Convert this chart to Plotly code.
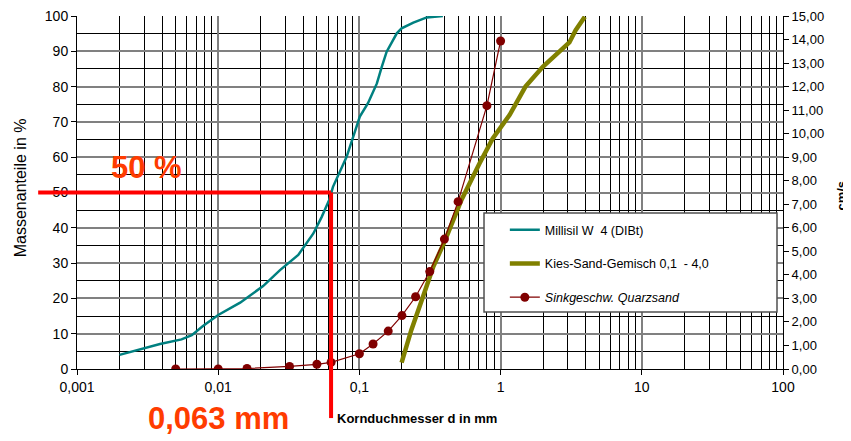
import plotly.graph_objects as go

# ---- data ----
millisil_d = [0.002, 0.00387, 0.0055, 0.0065, 0.0078, 0.010, 0.0143, 0.0163, 0.0208, 0.0274,
              0.0369, 0.0472, 0.0541, 0.0611, 0.065, 0.0812, 0.1007, 0.115, 0.133, 0.144,
              0.156, 0.184, 0.199, 0.241, 0.30, 0.39]
millisil_p = [4.0, 7.1, 8.4, 9.6, 12.2, 15.3, 18.8, 20.5, 23.5, 28.0,
              32.3, 38.4, 43.1, 47.9, 51.6, 60.1, 71.5, 75.3, 80.9, 85.6,
              89.9, 95.1, 96.5, 98.1, 99.6, 100.0]

kies_d = [0.199, 0.233, 0.282, 0.334, 0.405, 0.528, 0.71, 0.88, 1.16, 1.5,
          1.99, 2.635, 3.07, 3.4, 3.95]
kies_p = [1.8, 11.0, 20.5, 29.0, 36.5, 47.9, 58.3, 65.3, 72.0, 80.0,
          85.6, 89.9, 92.5, 96.0, 99.8]

sink_d = [0.005, 0.01, 0.016, 0.032, 0.05, 0.063, 0.1, 0.125, 0.16, 0.2,
          0.25, 0.315, 0.4, 0.5, 0.8, 1.0]
sink_v = [0.0, 0.0, 0.02, 0.11, 0.2, 0.28, 0.65, 1.06, 1.61, 2.27,
          3.07, 4.14, 5.52, 7.11, 11.19, 13.94]

x_major = [0.001, 0.01, 0.1, 1, 10, 100]
x_major_text = ["0,001", "0,01", "0,1", "1", "10", "100"]
x_minor = [m * 10 ** e for e in range(-3, 2) for m in range(2, 10)]

mark_d = 0.063
mark_p = 50
x_min = 0.001

FONT = "Liberation Sans, Arial, sans-serif"
RED = "#FF0000"
ORANGE = "#FF3C00"

fig = go.Figure()
fig.add_trace(go.Scatter(x=millisil_d, y=millisil_p, mode="lines", name="Millisil W  4 (DIBt)",
                         line=dict(color="#008080", width=2.5), legendgroup="a"))
fig.add_trace(go.Scatter(x=kies_d, y=kies_p, mode="lines", name="Kies-Sand-Gemisch 0,1  - 4,0",
                         line=dict(color="#808000", width=4.5), legendgroup="b"))
fig.add_trace(go.Scatter(x=sink_d, y=sink_v, mode="lines+markers", name="<i>Sinkgeschw. Quarzsand</i>",
                         line=dict(color="#800000", width=1.2),
                         marker=dict(color="#800000", size=9), yaxis="y2", legendgroup="c"))

# legend frame
fig.add_shape(type="rect", xref="paper", yref="paper", x0=0.5765, x1=0.9915, y0=0.1615, y1=0.442,
              fillcolor="white", line=dict(color="#505050", width=1.5), layer="above")

# red marker lines
line = dict(color=RED, width=4)
fig.add_shape(type="line", xref="paper", yref="y", x0=-0.055, x1=0, y0=mark_p, y1=mark_p, line=line)
fig.add_shape(type="line", xref="x", yref="y", x0=x_min, x1=mark_d, y0=mark_p, y1=mark_p, line=line)
fig.add_shape(type="line", xref="x", yref="y", x0=mark_d, x1=mark_d, y0=0, y1=mark_p, line=line)
fig.add_shape(type="line", xref="x", yref="paper", x0=mark_d, x1=mark_d, y0=-0.139, y1=0, line=line)

fig.add_annotation(text="<b>50 %</b>", xref="paper", yref="paper", x=0.0984, y=0.572,
                   xanchor="center", yanchor="middle",
                   showarrow=False, font=dict(family=FONT, size=31, color=ORANGE))
fig.add_annotation(text="<b>0,063 mm</b>", xref="paper", yref="paper", x=0.201, y=-0.139,
                   xanchor="center", yanchor="middle",
                   showarrow=False, font=dict(family=FONT, size=31, color=ORANGE))
fig.add_annotation(text="<b>Kornduchmesser d in mm</b>", xref="paper", yref="paper", x=0.366, y=-0.139,
                   xanchor="left", yanchor="middle", showarrow=False,
                   font=dict(family=FONT, size=13, color="black"))
fig.add_annotation(text="Massenanteile in %", xref="paper", yref="paper", x=-0.0807, y=0.512,
                   xanchor="center", yanchor="middle", textangle=-90, showarrow=False,
                   font=dict(family=FONT, size=16, color="black"))
fig.add_annotation(text="<b>cm/s</b>", xref="paper", yref="paper", x=1.0815, y=0.49,
                   xanchor="center", yanchor="middle", textangle=-90, showarrow=False,
                   font=dict(family=FONT, size=13, color="black"))

fig.update_layout(
    width=843, height=433,
    margin=dict(l=69, r=68, t=8, b=72),
    paper_bgcolor="white", plot_bgcolor="white",
    separators=",.",
    font=dict(family=FONT, size=14, color="black"),
    xaxis=dict(type="log", range=[-3, 2], tickmode="array", tickvals=x_major, ticktext=x_major_text,
               ticks="outside", ticklen=5, tickcolor="black", automargin=False,
               ticklabeloverflow="allow",
               showgrid=True, gridcolor="#808080", gridwidth=2,
               minor=dict(tickmode="array", tickvals=x_minor, showgrid=True, gridcolor="#000000",
                          gridwidth=1, ticks=""),
               showline=True, linecolor="black", linewidth=1, zeroline=False,
               tickfont=dict(size=14)),
    yaxis=dict(range=[0, 100], dtick=10, ticks="outside", ticklen=5, tickcolor="black",
               automargin=False, ticklabeloverflow="allow",
               showgrid=True, gridcolor="#808080", gridwidth=2,
               minor=dict(dtick=5, showgrid=True, gridcolor="#000000", gridwidth=1, ticks=""),
               showline=True, linecolor="black", linewidth=1, zeroline=False,
               tickfont=dict(size=14)),
    yaxis2=dict(range=[0, 15], dtick=1, tickformat=".2f", overlaying="y", side="right",
                ticks="outside", ticklen=5, tickcolor="black", showgrid=False, automargin=False,
                ticklabeloverflow="allow",
                showline=True, linecolor="black", linewidth=1, zeroline=False,
                tickfont=dict(size=13)),
    showlegend=True,
    legend=dict(x=0.606, y=0.436, xanchor="left", yanchor="top", bgcolor="rgba(0,0,0,0)",
                borderwidth=0, tracegroupgap=14.5,
                traceorder="grouped", font=dict(size=12.5)),
)

fig.write_html("out.html")
